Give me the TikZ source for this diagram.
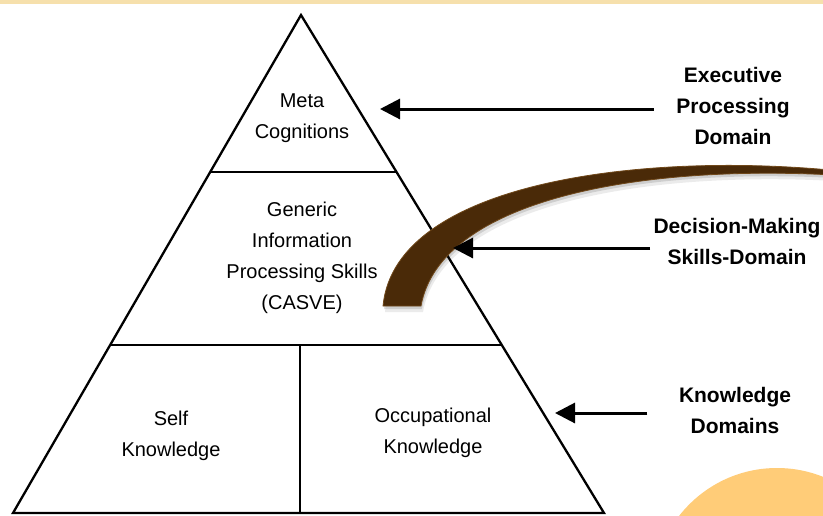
\documentclass[tikz,border=0pt]{standalone}
\usepackage{fontspec}
\setmainfont{Liberation Sans}
\usetikzlibrary{arrows.meta,calc,shadows}

\definecolor{franja}{RGB}{246,224,172}
\definecolor{cafe}{RGB}{74,42,8}
\definecolor{cafeborde}{RGB}{112,72,26}
\definecolor{naranja}{RGB}{255,204,120}

\tikzset{
  nivel/.style={align=center,font=\fontsize{20}{31}\selectfont},
  dominio/.style={align=center,font=\bfseries\fontsize{21}{31}\selectfont},
  flecha/.style={line width=3pt,-{Triangle[length=20pt,width=20pt]}},
  sombra/.style={general shadow={shadow xshift=1pt,shadow yshift=-3pt,opacity=0.12,fill=black},
                 general shadow={shadow xshift=2pt,shadow yshift=-6pt,opacity=0.08,fill=black}},
}

\begin{document}
\begin{tikzpicture}[x=1pt,y=-1pt]
%marco de la figura
\clip (0,0) rectangle (823,515);
\fill[white] (0,0) rectangle (823,515);
\fill[franja] (0,0) rectangle (823,4);

%circulo naranja abajo a la derecha
\fill[naranja] (777,592) circle (124pt);

%vertices de la piramide
\coordinate (apex) at (301,15);
\coordinate (bl) at (13,513);
\coordinate (br) at (604,513);
\draw[line width=2.3pt,line join=miter] (apex) -- (bl) -- (br) -- cycle;

%lineas de los niveles
\coordinate (l1) at ($(apex)!0.3153!(bl)$);
\coordinate (r1) at ($(apex)!0.3153!(br)$);
\coordinate (l2) at ($(apex)!0.6627!(bl)$);
\coordinate (r2) at ($(apex)!0.6627!(br)$);
\coordinate (m2) at (300,345);
\draw[line width=2.3pt] (l1) -- (r1);
\draw[line width=2.3pt] (l2) -- (r2);
\draw[line width=2.3pt] (m2) -- (m2 |- bl);

%textos de la piramide
\node[nivel] (meta) at (302,118) {Meta\\Cognitions};
\node[nivel] (generic) at (302,258) {Generic\\Information\\Processing Skills\\(CASVE)};
\node[nivel] (self) at (171,436) {Self\\Knowledge};
\node[nivel] (occup) at (433,433) {Occupational\\Knowledge};

%arco cafe
\fill[cafe,draw=cafeborde,line width=0.8pt,sombra]
  (383,306) .. controls (395,180) and (650,150) .. (850,172)
  -- (850,176) .. controls (640,162) and (440,200) .. (421,306) -- cycle;

%dominios y flechas
\coordinate (exectip) at (380,109);
\coordinate (dectip) at (453,248);
\coordinate (knowtip) at (555,413);
\node[dominio] (exec) at (733,106) {Executive\\Processing\\Domain};
\node[dominio] (dec) at (737,241) {Decision-Making\\Skills-Domain};
\node[dominio] (know) at (735,410) {Knowledge\\Domains};
\draw[flecha] ([xshift=-19pt]exec.west |- exectip) -- (exectip);
\draw[flecha] (dec.west |- dectip) -- (dectip);
\draw[flecha] ([xshift=-28pt]know.west |- knowtip) -- (knowtip);
\end{tikzpicture}
\end{document}
